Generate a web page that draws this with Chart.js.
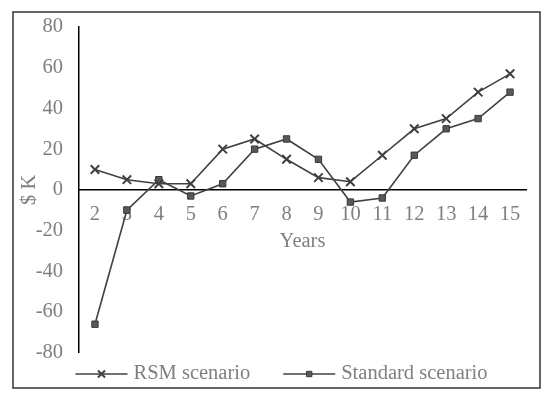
<!DOCTYPE html>
<html><head><meta charset="utf-8">
<script src="https://cdn.jsdelivr.net/npm/chart.js@4/dist/chart.umd.min.js"></script>
<style>html,body{margin:0;padding:0;background:#fff}</style>
</head><body>
<canvas id="c" width="550" height="397"></canvas>
<script>
const years = ['2','3','4','5','6','7','8','9','10','11','12','13','14','15'];
const rsmValues = [10, 5, 3, 3, 20, 25, 15, 6, 4, 17, 30, 35, 48, 57];
const standardValues = [-66, -10, 5, -3, 3, 20, 25, 15, -6, -4, 17, 30, 35, 48];
const seriesNames = ['RSM scenario', 'Standard scenario'];
const yMin = -80, yMax = 80, yStep = 20;
const xTitle = 'Years';
const yTitle = '$ K';

const FONT = '"Liberation Serif", "Times New Roman", serif';
const FS = 20.5;
const TXT = '#7f7f7f';
const LINE = '#404040';

Chart.defaults.font.family = FONT;
Chart.defaults.font.size = FS;
Chart.defaults.color = TXT;

function drawMarker(ctx, style, x, y, r, ds) {
  ctx.save();
  ctx.strokeStyle = ds.pointBorderColor;
  ctx.fillStyle = ds.pointBackgroundColor;
  ctx.lineWidth = ds.pointBorderWidth;
  ctx.beginPath();
  if (style === 'crossRot') {
    const o = Math.SQRT1_2 * r;
    ctx.moveTo(x - o, y - o); ctx.lineTo(x + o, y + o);
    ctx.moveTo(x + o, y - o); ctx.lineTo(x - o, y + o);
    ctx.stroke();
  } else {
    const s = Math.SQRT1_2 * r;
    ctx.rect(x - s, y - s, 2 * s, 2 * s);
    ctx.fill(); ctx.stroke();
  }
  ctx.restore();
}

const frame = {
  id: 'frame',
  afterDraw(chart) {
    const ctx = chart.ctx;
    ctx.save();
    ctx.strokeStyle = '#333';
    ctx.lineWidth = 1.5;
    ctx.strokeRect(13, 12, 527, 376);
    ctx.restore();
  }
};

const lineLegend = {
  id: 'lineLegend',
  afterDraw(chart) {
    const ctx = chart.ctx;
    ctx.save();
    ctx.font = FS + 'px ' + FONT;
    const items = chart.data.datasets.map(ds => ({ds, w: ctx.measureText(ds.label).width}));
    const symW = 52, gap = 6, itemGap = 33;
    const total = items.reduce((s, it) => s + symW + gap + it.w, 0) + itemGap * (items.length - 1);
    let x = 281.5 - total / 2;
    const y = 374;
    items.forEach(it => {
      ctx.strokeStyle = it.ds.borderColor;
      ctx.lineWidth = 1.5;
      ctx.beginPath(); ctx.moveTo(x, y); ctx.lineTo(x + symW, y); ctx.stroke();
      drawMarker(ctx, it.ds.pointStyle, x + symW / 2, y, it.ds.pointStyle === 'crossRot' ? 5 : 3.8, it.ds);
      ctx.fillStyle = TXT;
      ctx.textBaseline = 'middle';
      ctx.textAlign = 'left';
      ctx.fillText(it.ds.label, x + symW + gap, y);
      x += symW + gap + it.w + itemGap;
    });
    ctx.restore();
  }
};

new Chart(document.getElementById('c'), {
  type: 'line',
  data: {
    labels: years,
    datasets: [
      {
        label: seriesNames[0],
        data: rsmValues,
        borderColor: LINE,
        borderWidth: 1.6,
        pointStyle: 'crossRot',
        pointRadius: 6,
        pointBorderWidth: 2,
        pointBorderColor: LINE,
        pointBackgroundColor: LINE,
        tension: 0
      },
      {
        label: seriesNames[1],
        data: standardValues,
        borderColor: LINE,
        borderWidth: 1.6,
        pointStyle: 'rect',
        pointRadius: 4.5,
        pointBorderWidth: 1,
        pointBorderColor: '#3a3a3a',
        pointBackgroundColor: '#595959',
        tension: 0
      }
    ]
  },
  options: {
    responsive: false,
    animation: false,
    layout: { padding: { left: 0, right: 24, top: 27, bottom: 44.3 } },
    plugins: { legend: { display: false }, tooltip: { enabled: false } },
    scales: {
      x: {
        type: 'category',
        offset: true,
        position: { y: 0 },
        grid: { display: false },
        border: { display: true, color: '#000', width: 1.5 },
        ticks: { padding: 4, color: TXT, maxRotation: 0, autoSkip: false },
        title: { display: true, text: xTitle, color: TXT, padding: { top: -1, bottom: 0 } }
      },
      y: {
        min: yMin, max: yMax,
        grid: { display: false },
        border: { display: true, color: '#000', width: 1.5 },
        ticks: { stepSize: yStep, padding: 8, color: TXT },
        title: { display: true, text: yTitle, color: TXT, padding: { top: 17.7, bottom: 0 } },
        afterFit(scale) { scale.width = 79; }
      }
    }
  },
  plugins: [frame, lineLegend]
});
</script>
</body></html>
